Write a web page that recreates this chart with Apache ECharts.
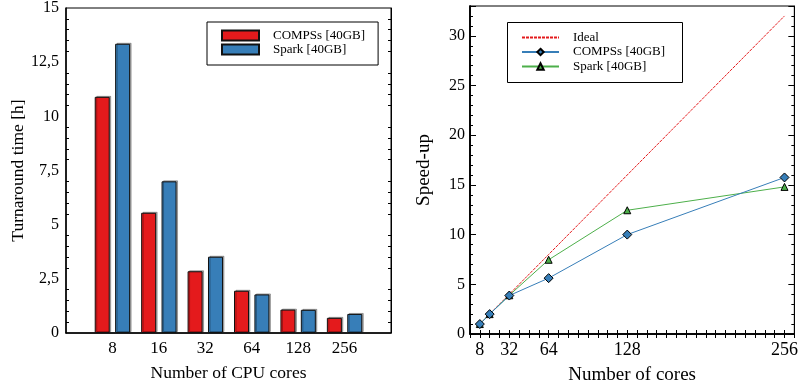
<!DOCTYPE html>
<html><head><meta charset="utf-8">
<script src="https://cdn.jsdelivr.net/npm/echarts@6/dist/echarts.min.js"></script>
<style>html,body{margin:0;padding:0;background:#fff}#c{width:801px;height:390px}</style>
</head><body><div id="c"></div>
<script>
// ---- data ----
const barCategories = ['8', '16', '32', '64', '128', '256'];
const compssHours = [10.9, 5.55, 2.85, 1.95, 1.08, 0.7];
const sparkHours = [13.35, 7.0, 3.52, 1.78, 1.07, 0.88];

const coreCounts = [8, 16, 32, 64, 128, 256];
const idealSpeedup = [1, 2, 4, 8, 16, 32];
const compssSpeedup = [1, 2, 3.87, 5.62, 10, 15.75];
const sparkSpeedup = [1, 2, 3.9, 7.47, 12.45, 14.8];
const speedXLabels = [8, 32, 64, 128, 256];

// ---- styles ----
const FONT = 'Liberation Serif';
const RED = '#e41a1c', BLUE = '#377eb8', GREEN = '#4daf4a';
const cats = [''].concat(barCategories, ['']);
const pad = arr => ['-'].concat(arr, ['-']);
const pairs = ys => coreCounts.map((c, i) => [c, ys[i]]);
const axisLine = { show: true, lineStyle: { color: '#000', width: 1.5 } };
const barShadow = { shadowColor: 'rgba(0,0,0,0.3)', shadowOffsetX: 1.5, shadowOffsetY: -1, shadowBlur: 0 };

const chart = echarts.init(document.getElementById('c'));
chart.setOption({
  animation: false,
  textStyle: { fontFamily: FONT, color: '#000' },
  grid: [
    { left: 66, right: 410, top: 6, bottom: 57, show: true, borderColor: '#000', borderWidth: 1 },
    { left: 470, right: 4, top: 6, bottom: 56, show: true, borderColor: '#000', borderWidth: 1 }
  ],
  graphic: [
    { type: 'rect', left: 507, top: 22, z: 3, shape: { width: 175, height: 60 },
      style: { fill: '#fff', stroke: '#000', lineWidth: 1 } }
  ],
  legend: [
    {
      orient: 'vertical', left: 207, top: 22, padding: [7, 13, 9, 14],
      itemWidth: 37, itemHeight: 10, itemGap: 1, icon: 'rect',
      backgroundColor: '#fff', borderColor: '#000', borderWidth: 1, borderRadius: 0,
      textStyle: { fontFamily: FONT, fontSize: 13, color: '#000', padding: [0, 0, 0, 9] },
      data: ['COMPSs [40GB]', 'Spark [40GB]']
    },
    {
      orient: 'vertical', left: 507, top: 22, padding: [9, 16, 9, 14], z: 10,
      itemWidth: 37, itemHeight: 8, itemGap: 1.5,
      backgroundColor: 'transparent', borderWidth: 0,
      textStyle: { fontFamily: FONT, fontSize: 13, color: '#000', padding: [0, 0, 0, 9] },
      formatter: n => n.replace(' speed-up', ''),
      data: [
        { name: 'Ideal', itemStyle: { opacity: 0 } },
        'COMPSs [40GB] speed-up',
        'Spark [40GB] speed-up'
      ]
    }
  ],
  xAxis: [
    {
      gridIndex: 0, type: 'category', data: cats, boundaryGap: false,
      axisLine: axisLine, axisTick: { show: false },
      axisLabel: { fontFamily: FONT, fontSize: 17, color: '#000', margin: 7 },
      name: 'Number of CPU cores', nameLocation: 'middle', nameGap: 31,
      nameTextStyle: { fontFamily: FONT, fontSize: 17.5, color: '#000' }
    },
    {
      gridIndex: 1, type: 'value', min: 0, max: 264, interval: 8, position: 'bottom',
      axisLine: axisLine, splitLine: { show: false },
      axisTick: { inside: true, length: 4, lineStyle: { color: '#000' } },
      axisLabel: { fontFamily: FONT, fontSize: 18, color: '#000', margin: 7,
        formatter: v => speedXLabels.includes(v) ? String(v) : '' },
      name: 'Number of cores', nameLocation: 'middle', nameGap: 32,
      nameTextStyle: { fontFamily: FONT, fontSize: 19, color: '#000' }
    },
    {
      gridIndex: 1, type: 'value', min: 0, max: 264, interval: 8, position: 'top',
      axisLine: axisLine, splitLine: { show: false },
      axisTick: { inside: true, length: 4, lineStyle: { color: '#000' } },
      axisLabel: { show: false }
    }
  ],
  yAxis: [
    {
      gridIndex: 0, type: 'value', min: 0, max: 15, interval: 2.5, position: 'left',
      axisLine: axisLine, splitLine: { show: false },
      axisTick: { inside: true, length: 6, lineStyle: { color: '#000' } },
      minorTick: { show: true, splitNumber: 5, length: 3, lineStyle: { color: '#000' } },
      axisLabel: { fontFamily: FONT, fontSize: 16, color: '#000', margin: 7,
        formatter: v => String(v).replace('.', ',') },
      name: 'Turnaround time [h]', nameLocation: 'middle', nameGap: 39,
      nameTextStyle: { fontFamily: FONT, fontSize: 17.5, color: '#000' }
    },
    {
      gridIndex: 0, type: 'value', min: 0, max: 15, interval: 2.5, position: 'right',
      axisLine: { show: true, lineStyle: { color: '#000', width: 1 } }, splitLine: { show: false },
      axisTick: { inside: true, length: 6, lineStyle: { color: '#000' } },
      minorTick: { show: true, splitNumber: 5, length: 3, lineStyle: { color: '#000' } },
      axisLabel: { show: false }
    },
    {
      gridIndex: 1, type: 'value', min: 0, max: 33, interval: 1, position: 'left',
      axisLine: axisLine, splitLine: { show: false },
      axisTick: { inside: true, length: 3, lineStyle: { color: '#000' } },
      axisLabel: { show: false }
    },
    {
      gridIndex: 1, type: 'value', min: 0, max: 33, interval: 5, position: 'left',
      axisLine: axisLine, splitLine: { show: false },
      axisTick: { inside: true, length: 6, lineStyle: { color: '#000' } },
      axisLabel: { fontFamily: FONT, fontSize: 16, color: '#000', margin: 5,
        formatter: v => (v % 5 === 0 ? String(v) : '') },
      name: 'Speed-up', nameLocation: 'middle', nameGap: 36,
      nameTextStyle: { fontFamily: FONT, fontSize: 19, color: '#000' }
    },
    {
      gridIndex: 1, type: 'value', min: 0, max: 33, interval: 1, position: 'right',
      axisLine: { show: true, lineStyle: { color: '#000', width: 1 } }, splitLine: { show: false },
      axisTick: { inside: true, length: 3, lineStyle: { color: '#000' } },
      axisLabel: { show: false }
    },
    {
      gridIndex: 1, type: 'value', min: 0, max: 33, interval: 5, position: 'right',
      axisLine: { show: false }, splitLine: { show: false },
      axisTick: { inside: true, length: 6, lineStyle: { color: '#000' } },
      axisLabel: { show: false }
    }
  ],
  series: [
    {
      name: 'COMPSs [40GB]', type: 'bar', xAxisIndex: 0, yAxisIndex: 0,
      data: pad(compssHours), barWidth: 15, barGap: '36%',
      itemStyle: Object.assign({ color: RED, borderColor: '#111', borderWidth: 1 }, barShadow)
    },
    {
      name: 'Spark [40GB]', type: 'bar', xAxisIndex: 0, yAxisIndex: 0,
      data: pad(sparkHours), barWidth: 15, barGap: '36%',
      itemStyle: Object.assign({ color: BLUE, borderColor: '#111', borderWidth: 1 }, barShadow)
    },
    {
      name: 'Ideal', type: 'line', xAxisIndex: 1, yAxisIndex: 2,
      data: pairs(idealSpeedup), symbol: 'none',
      lineStyle: { color: RED, width: 1, type: [3, 1] }, itemStyle: { color: RED }
    },
    {
      name: 'Spark [40GB] speed-up', type: 'line', xAxisIndex: 1, yAxisIndex: 2,
      data: pairs(sparkSpeedup), symbol: 'triangle', symbolSize: 7,
      lineStyle: { color: GREEN, width: 1 },
      itemStyle: { color: GREEN, borderColor: '#000', borderWidth: 1 }
    },
    {
      name: 'COMPSs [40GB] speed-up', type: 'line', xAxisIndex: 1, yAxisIndex: 2,
      data: pairs(compssSpeedup), symbol: 'diamond', symbolSize: 9,
      lineStyle: { color: BLUE, width: 1 },
      itemStyle: { color: BLUE, borderColor: '#000', borderWidth: 1 }
    }
  ]
});
</script></body></html>
